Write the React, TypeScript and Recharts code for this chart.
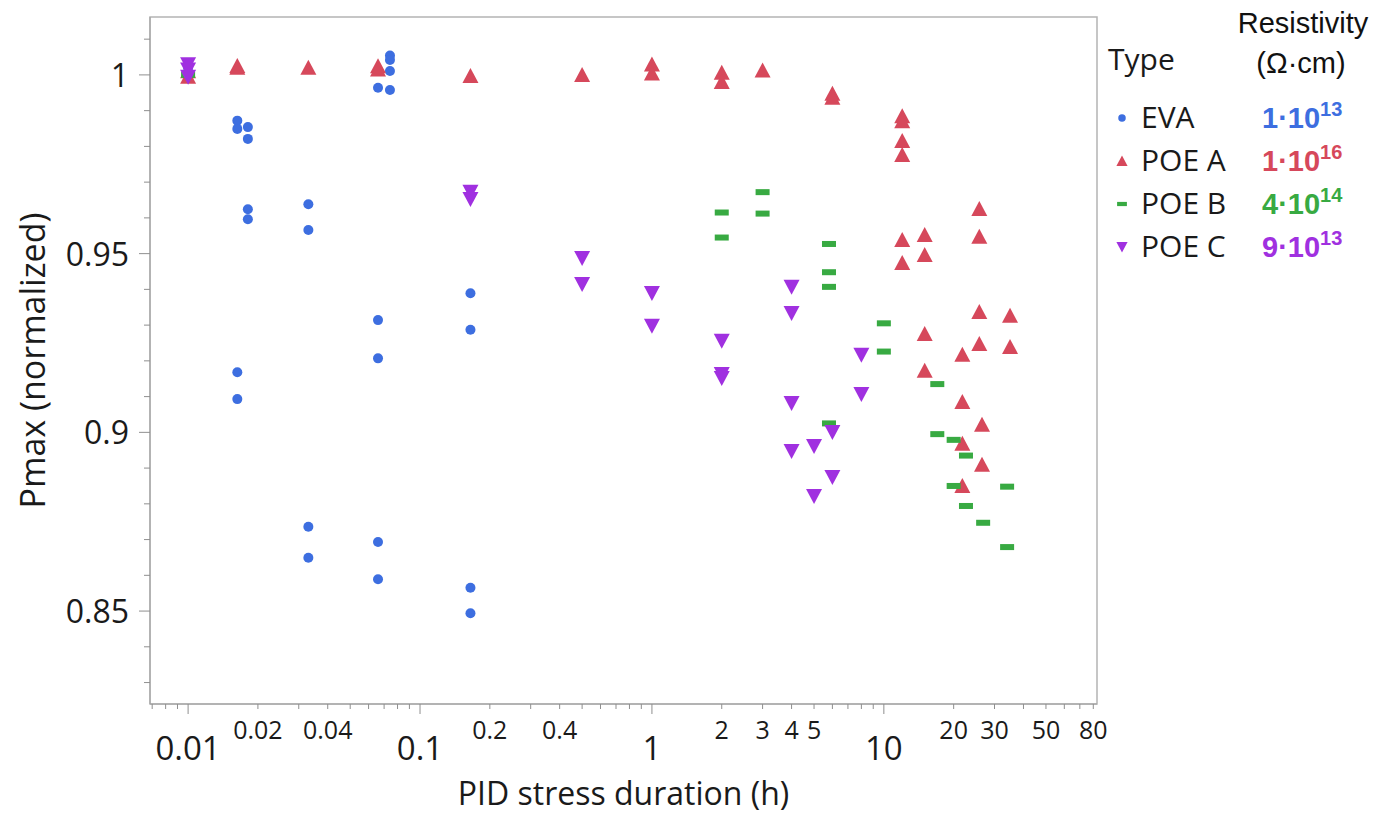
import { ReferenceArea, Scatter, ScatterChart, XAxis, YAxis } from "recharts";

const FONT = '"Open Sans", "Noto Sans", sans-serif';
const ARIAL = '"Liberation Sans", Arial, sans-serif';

const COLORS = {
  eva: "#3d6ee0",
  poeA: "#d6485b",
  poeB: "#38aa42",
  poeC: "#a030e0",
};

// axis ranges
const X_MIN = 0.00685;
const X_MAX = 83;
const Y_MIN = 0.824;
const Y_MAX = 1.0162;

const X_TICKS = [
  0.007, 0.008, 0.009, 0.01, 0.02, 0.03, 0.04, 0.05, 0.06, 0.07, 0.08, 0.09,
  0.1, 0.2, 0.3, 0.4, 0.5, 0.6, 0.7, 0.8, 0.9, 1, 2, 3, 4, 5, 6, 7, 8, 9,
  10, 20, 30, 40, 50, 60, 70, 80,
];
const X_BIG_LABELS = [0.01, 0.1, 1, 10];
const X_SMALL_LABELS = [0.02, 0.04, 0.2, 0.4, 2, 3, 4, 5, 20, 30, 50, 80];

const Y_TICKS = [
  0.83, 0.84, 0.85, 0.86, 0.87, 0.88, 0.89, 0.9, 0.91, 0.92, 0.93, 0.94,
  0.95, 0.96, 0.97, 0.98, 0.99, 1, 1.01,
];
const Y_LABELS = [0.85, 0.9, 0.95, 1];

// PID stress duration (h) / normalized Pmax, per encapsulant
const EVA_T = [
  0.01, 0.01, 0.0163, 0.0163, 0.0163, 0.0163, 0.0181, 0.0181, 0.0181, 0.0181,
  0.033, 0.033, 0.033, 0.033, 0.0659, 0.0659, 0.0659, 0.0659, 0.0659,
  0.0742, 0.0742, 0.0742, 0.0742, 0.165, 0.165, 0.165, 0.165,
];
const EVA_P = [
  1.0, 1.002, 0.9872, 0.9849, 0.9168, 0.9093, 0.9854, 0.9821, 0.9624, 0.9596,
  0.9638, 0.9566, 0.8736, 0.8649, 0.9964, 0.9314, 0.9207, 0.8693, 0.8589,
  1.0054, 1.0042, 1.0011, 0.9958, 0.9389, 0.9287, 0.8565, 0.8494,
];

const POE_A_T = [
  0.01, 0.01, 0.0163, 0.0163, 0.033, 0.0659, 0.0659, 0.165, 0.5, 1, 1, 2, 2, 3,
  6, 6, 12, 12, 12, 12, 12, 12, 15, 15, 15, 15, 21.8, 21.8, 21.8, 21.8,
  25.8, 25.8, 25.8, 25.8, 26.5, 26.5, 35, 35,
];
const POE_A_P = [
  0.9995, 1.001, 1.0025, 1.002, 1.002, 1.0024, 1.0015, 0.9997, 1.0, 1.0029,
  1.0004, 1.0006, 0.998, 1.0012, 0.9947, 0.9936, 0.9884, 0.987, 0.9815,
  0.9776, 0.9538, 0.9474, 0.9552, 0.9496, 0.9275, 0.9172, 0.9217, 0.9085,
  0.8968, 0.885, 0.9625, 0.9547, 0.9337, 0.9247, 0.9021, 0.8909, 0.9326,
  0.9239,
];

const POE_B_T = [
  0.01, 2, 2, 3, 3, 5.8, 5.8, 5.8, 5.8, 10, 10, 17, 17, 20, 20, 22.6, 22.6,
  26.8, 34, 34,
];
const POE_B_P = [
  1.0, 0.9615, 0.9545, 0.9672, 0.9612, 0.9527, 0.9448, 0.9407, 0.9025, 0.9305,
  0.9226, 0.9135, 0.8995, 0.8979, 0.885, 0.8935, 0.8794, 0.8747, 0.8848,
  0.8679,
];

const POE_C_T = [
  0.01, 0.01, 0.01, 0.165, 0.165, 0.5, 0.5, 1, 1, 2, 2, 2, 4, 4, 4, 4, 5, 5, 6,
  6, 8, 8,
];
const POE_C_P = [
  1.003, 1.0015, 0.9995, 0.9673, 0.9653, 0.9488, 0.9415, 0.939, 0.9298,
  0.9256, 0.9163, 0.9152, 0.9407, 0.9334, 0.9082, 0.8948, 0.8962, 0.8822,
  0.9001, 0.8875, 0.9217, 0.9107,
];

const zip = (t: number[], p: number[]) => t.map((x, i) => ({ t: x, p: p[i] }));

const SERIES = [
  { key: "EVA", data: zip(EVA_T, EVA_P), color: COLORS.eva, mark: "dot", res: "1", exp: "13" },
  { key: "POE A", data: zip(POE_A_T, POE_A_P), color: COLORS.poeA, mark: "up", res: "1", exp: "16" },
  { key: "POE B", data: zip(POE_B_T, POE_B_P), color: COLORS.poeB, mark: "dash", res: "4", exp: "14" },
  { key: "POE C", data: zip(POE_C_T, POE_C_P), color: COLORS.poeC, mark: "down", res: "9", exp: "13" },
];

function Marker({ kind, cx, cy, color, s = 1 }: any) {
  if (kind === "dot") return <circle cx={cx} cy={cy} r={5 * s} fill={color} />;
  if (kind === "up")
    return (
      <polygon
        points={`${cx - 8 * s},${cy + 7 * s} ${cx + 8 * s},${cy + 7 * s} ${cx},${cy - 8 * s}`}
        fill={color}
      />
    );
  if (kind === "down")
    return (
      <polygon
        points={`${cx - 8 * s},${cy - 7 * s} ${cx + 8 * s},${cy - 7 * s} ${cx},${cy + 8 * s}`}
        fill={color}
      />
    );
  return <rect x={cx - 7 * s} y={cy - 3 * s} width={14 * s} height={6 * s} fill={color} />;
}

function XTick({ x, y, payload }: any) {
  const v = payload.value;
  const big = X_BIG_LABELS.includes(v);
  const small = X_SMALL_LABELS.includes(v);
  return (
    <g>
      <line x1={x} x2={x} y1={y} y2={y + (big ? 10 : 5)} stroke="#8f8f8f" />
      {big && (
        <text x={x} y={y + 56} textAnchor="middle" fontSize={33} fontFamily={FONT} fill="#1a1a1a">
          {String(v)}
        </text>
      )}
      {small && (
        <text x={x} y={y + 35} textAnchor="middle" fontSize={25} fontFamily={FONT} fill="#1a1a1a">
          {String(v)}
        </text>
      )}
    </g>
  );
}

function YTick({ x, y, payload }: any) {
  const v = payload.value;
  const major = Y_LABELS.some((l) => Math.abs(l - v) < 1e-6);
  return (
    <g>
      <line x1={x - (major ? 11 : 6)} x2={x} y1={y} y2={y} stroke="#8f8f8f" />
      {major && (
        <text x={x - 21} y={y + 12} textAnchor="end" fontSize={32} fontFamily={FONT} fill="#1a1a1a">
          {String(v)}
        </text>
      )}
    </g>
  );
}

// legend coords are relative to the chart box (page offset 8px)
function Legend() {
  const rows = [120, 163, 206, 249];
  return (
    <svg
      width={1375}
      height={807}
      style={{ position: "absolute", left: 0, top: 0, pointerEvents: "none" }}
    >
      <text x={1295} y={25} textAnchor="middle" fontSize={29} fontFamily={ARIAL} fill="#111">
        Resistivity
      </text>
      <text x={1293} y={65} textAnchor="middle" fontSize={29} fontFamily={ARIAL} fill="#111">
        (Ω·cm)
      </text>
      <text x={1100} y={62} fontSize={30} fontFamily={FONT} fill="#1a1a1a">
        Type
      </text>
      {SERIES.map((s, i) => (
        <g key={s.key}>
          <Marker kind={s.mark} cx={1114} cy={rows[i] - 10} color={s.color} s={s.mark === "dot" ? 0.75 : 0.7} />
          <text x={1133} y={rows[i]} fontSize={30} fontFamily={FONT} fill="#1a1a1a">
            {s.key}
          </text>
          <text x={1254} y={rows[i]} fontSize={29} fontWeight="bold" fontFamily={ARIAL} fill={s.color}>
            {s.res}·10
            <tspan fontSize={20} dy={-12}>
              {s.exp}
            </tspan>
          </text>
        </g>
      ))}
    </svg>
  );
}

export default function App() {
  return (
    <div style={{ position: "relative", width: 1375, height: 807, background: "#fff" }}>
      <ScatterChart width={1375} height={807} margin={{ top: 9, right: 286, bottom: 0, left: 0 }}>
        <XAxis
          type="number"
          dataKey="t"
          scale="log"
          domain={[X_MIN, X_MAX]}
          allowDataOverflow
          ticks={X_TICKS}
          interval={0}
          tick={<XTick />}
          tickLine={false}
          tickSize={0}
          tickMargin={0}
          axisLine={{ stroke: "#a0a0a0" }}
          height={111}
          label={{
            content: ({ viewBox }: any) => (
              <text
                x={viewBox.x + viewBox.width / 2}
                y={viewBox.y + viewBox.height - 10}
                textAnchor="middle"
                fontSize={32}
                fontFamily={FONT}
                fill="#1a1a1a"
              >
                PID stress duration (h)
              </text>
            ),
          }}
        />
        <YAxis
          type="number"
          dataKey="p"
          domain={[Y_MIN, Y_MAX]}
          allowDataOverflow
          ticks={Y_TICKS}
          interval={0}
          tick={<YTick />}
          tickLine={false}
          tickSize={0}
          tickMargin={0}
          axisLine={{ stroke: "#a0a0a0" }}
          width={142}
          label={{
            content: ({ viewBox }: any) => {
              const cx = 24;
              const cy = viewBox.y + viewBox.height / 2;
              return (
                <text
                  x={cx}
                  y={cy}
                  transform={`rotate(-90, ${cx}, ${cy})`}
                  textAnchor="middle"
                  dominantBaseline="central"
                  fontSize={34}
                  fontFamily={FONT}
                  fill="#1a1a1a"
                >
                  Pmax (normalized)
                </text>
              );
            },
          }}
        />
        <ReferenceArea
          x1={X_MIN}
          x2={X_MAX}
          y1={Y_MIN}
          y2={Y_MAX}
          fill="none"
          stroke="#b4b4b4"
          strokeWidth={1.5}
        />
        {SERIES.map((s) => (
          <Scatter
            key={s.key}
            name={s.key}
            data={s.data}
            isAnimationActive={false}
            shape={(props: any) => <Marker kind={s.mark} cx={props.cx} cy={props.cy} color={s.color} />}
          />
        ))}
      </ScatterChart>
      <Legend />
    </div>
  );
}
